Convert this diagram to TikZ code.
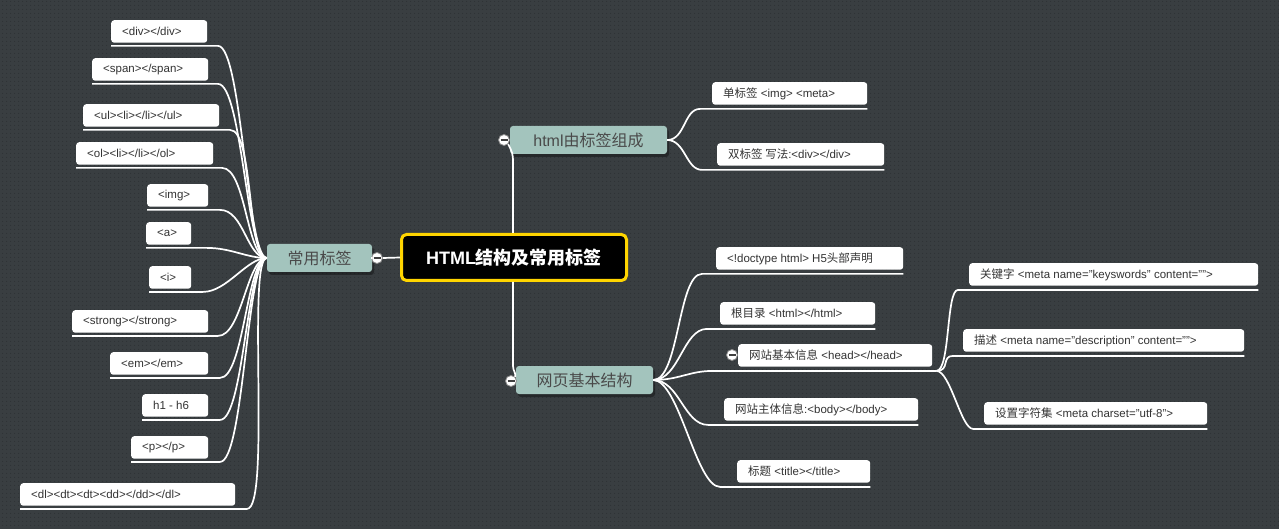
\documentclass[tikz,border=0pt]{standalone}
\usepackage{fontspec}
\setmainfont{Liberation Sans}
\newfontfamily\cjk{Noto Sans CJK SC}
\usetikzlibrary{shadows,patterns.meta}
\definecolor{bg}{HTML}{393E41}
\definecolor{bgdot}{HTML}{2C3033}
\definecolor{branch}{HTML}{A3C4BD}
\definecolor{btxt}{HTML}{4A4A4A}
\definecolor{ltxt}{HTML}{333333}
\definecolor{gold}{HTML}{FFD500}
\newcommand\lbx[2]{\makebox[#1][l]{#2}}
\begin{document}
\begin{tikzpicture}[x=1pt,y=-1pt,
  leaf/.style={fill=white, rounded corners=3pt, inner xsep=11pt, inner ysep=0pt,
    minimum height=22.5pt, anchor=north west, font=\fontsize{11.5}{13}\selectfont, text=ltxt},
  branchbox/.style={fill=branch, rounded corners=3pt, inner sep=0pt, minimum height=28pt,
    text=btxt, font=\fontsize{16}{18}\selectfont\cjk,
    drop shadow={shadow xshift=2pt, shadow yshift=-3pt, fill=black, opacity=0.35}},
  rootbox/.style={fill=black, draw=gold, line width=3pt, rounded corners=5pt, inner sep=0pt,
    minimum width=225pt, minimum height=46pt, text=white, font=\fontsize{18}{20}\selectfont\bfseries},
  conn/.style={draw=white, line width=1.7pt},
  btn/.style={circle, draw=black!45, line width=0.8pt, fill=white, minimum size=11pt, inner sep=0pt,
    path picture={\draw[line width=1.3pt, black!75] ([xshift=-3.5pt]path picture bounding box.center) -- ([xshift=3.5pt]path picture bounding box.center);}}
]
\fill[bg] (0,0) rectangle (1279,529);
\fill[pattern={Dots[distance=4pt, radius=0.6pt]}, pattern color=bgdot] (0,0) rectangle (1279,529);
\useasboundingbox (0,0) rectangle (1279,529);

% root and branches
\node[rootbox] (root) at (514,257.5) {HTML{\cjk 结构及常用标签}};
\node[branchbox, minimum width=105pt] (cy) at (319.5,258) {常用标签};
\node[branchbox, minimum width=157pt] (hb) at (588.5,140) {{\fontspec{Liberation Sans}html}由标签组成};
\node[branchbox, minimum width=137pt] (wy) at (584.5,380) {网页基本结构};

% left leaves
\node[leaf] (l1) at (111,20) {\lbx{74pt}{<div></div>}};
\node[leaf] (l2) at (92,58) {\lbx{94pt}{<span></span>}};
\node[leaf] (l3) at (83,104) {\lbx{114pt}{<ul><li></li></ul>}};
\node[leaf] (l4) at (76,142) {\lbx{115pt}{<ol><li></li></ol>}};
\node[leaf] (l5) at (147,184) {\lbx{39pt}{<img>}};
\node[leaf] (l6) at (146,222) {\lbx{23pt}{<a>}};
\node[leaf] (l7) at (149,266) {\lbx{20pt}{<i>}};
\node[leaf] (l8) at (72,310) {\lbx{114pt}{<strong></strong>}};
\node[leaf] (l9) at (110,352) {\lbx{76pt}{<em></em>}};
\node[leaf] (l10) at (142,394) {\lbx{44pt}{h1 - h6}};
\node[leaf] (l11) at (131,436) {\lbx{55pt}{<p></p>}};
\node[leaf] (l12) at (20,483) {\lbx{193pt}{<dl><dt><dt><dd></dd></dl>}};

% right leaves
\node[leaf] (r1) at (712,82) {\lbx{133pt}{{\cjk 单标签} <img> <meta>}};
\node[leaf] (r2) at (717,143) {\lbx{145pt}{{\cjk 双标签 写法}:<div></div>}};
\node[leaf] (r3) at (716,247) {\lbx{165pt}{<!doctype html> H5{\cjk 头部声明}}};
\node[leaf] (r4) at (720,302) {\lbx{133pt}{{\cjk 根目录} <html></html>}};
\node[leaf] (r5) at (738,344) {\lbx{172pt}{{\cjk 网站基本信息} <head></head>}};
\node[leaf] (r6) at (724,398) {\lbx{172pt}{{\cjk 网站主体信息}:<body></body>}};
\node[leaf] (r7) at (737,460) {\lbx{111pt}{{\cjk 标题} <title></title>}};
\node[leaf] (r8) at (969,263) {\lbx{267pt}{{\cjk 关键字} <meta name="keyswords" content="">}};
\node[leaf] (r9) at (963,329) {\lbx{259pt}{{\cjk 描述} <meta name="description" content="">}};
\node[leaf] (r10) at (984,402) {\lbx{201pt}{{\cjk 设置字符集} <meta charset="utf-8">}};

% left connectors
\foreach \n/\d in {l1/107,l2/126,l3/147,l4/146,l5/73,l6/61,l7/54,l8/146,l9/110,l10/78,l11/89,l12/227}{
  \draw[conn] ([yshift=-3pt]\n.south west) -- ++(\d,0) .. controls +(24,0) and +(-20,0) .. (cy.west);
}

% html children
\draw[conn] (hb.east) .. controls +(18,0) and +(-16,0) .. ([shift={(-12pt,-4pt)}]r1.south west) -- ([yshift=-4pt]r1.south east);
\draw[conn] (hb.east) .. controls +(18,0) and +(-16,0) .. ([shift={(-15pt,-4pt)}]r2.south west) -- ([yshift=-4pt]r2.south east);

% wy children
\draw[conn] (wy.east) .. controls +(26,0) and +(-24,0) .. ([shift={(-14pt,-4pt)}]r3.south west) -- ([yshift=-4pt]r3.south east);
\draw[conn] (wy.east) .. controls +(26,0) and +(-24,0) .. ([shift={(-13pt,-4pt)}]r4.south west) -- ([yshift=-4pt]r4.south east);
\draw[conn] (wy.east) .. controls +(26,0) and +(-24,0) .. ([shift={(-25pt,-4pt)}]r5.south west) -- ([shift={(4pt,-4pt)}]r5.south east) coordinate (hh);
\draw[conn] (wy.east) .. controls +(26,0) and +(-24,0) .. ([shift={(-16pt,-4pt)}]r6.south west) -- ([yshift=-4pt]r6.south east);
\draw[conn] (wy.east) .. controls +(26,0) and +(-24,0) .. ([shift={(-17pt,-4pt)}]r7.south west) -- ([yshift=-4pt]r7.south east);

% head children
\draw[conn] (hh) .. controls +(14,0) and +(-12,0) .. ([shift={(-11pt,-4pt)}]r8.south west) -- ([yshift=-4pt]r8.south east);
\draw[conn] (hh) .. controls +(14,0) and +(-12,0) .. ([shift={(-10pt,-4pt)}]r9.south west) -- ([yshift=-4pt]r9.south east);
\draw[conn] (hh) .. controls +(14,0) and +(-12,0) .. ([shift={(-11pt,-4pt)}]r10.south west) -- ([yshift=-4pt]r10.south east);

% collapse buttons
\node[btn] (cym) at (377,258) {};
\node[btn] (hbm) at (504,140) {};
\node[btn] (wym) at (511,381) {};
\node[btn] (r5m) at (732,355) {};

% root connectors
\draw[conn] (root.west) -- (cym.east);
\draw[conn] (cym.west) -- (cy.east);
\draw[conn] ([xshift=-1pt]root.north) -- ++(0,-70) .. controls +(0,-10) and +(4,8) .. (hbm.south east);
\draw[conn] ([xshift=-1pt]root.south) -- ++(0,84) .. controls +(0,5) and +(1,-4) .. (wym.north east);
\end{tikzpicture}
\end{document}
